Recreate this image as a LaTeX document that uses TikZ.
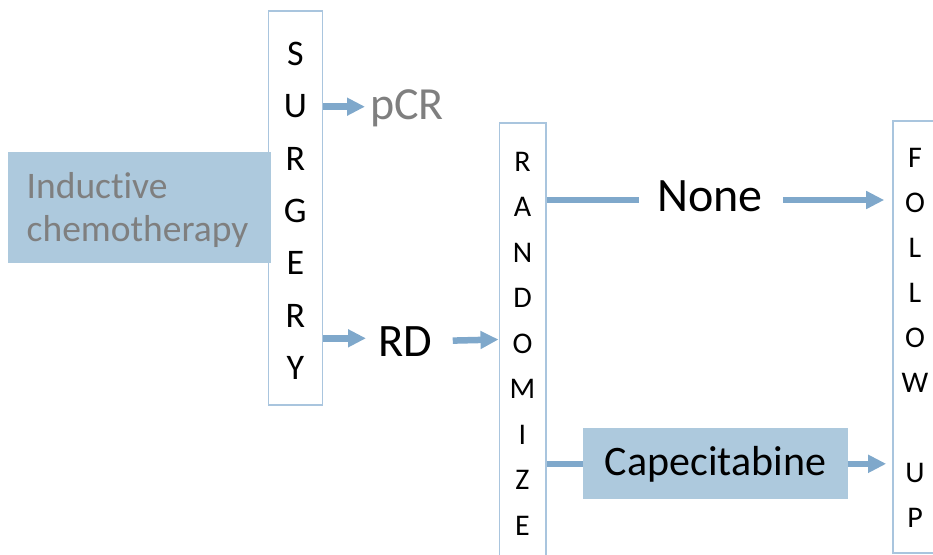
\documentclass[tikz,border=0pt]{standalone}
\usepackage{fontspec}
\setmainfont{Carlito}[Ligatures=NoCommon]
\usetikzlibrary{arrows.meta,calc}
\definecolor{boxline}{HTML}{A9C5DE}
\definecolor{boxfill}{HTML}{ADC9DD}
\definecolor{flowblue}{HTML}{7FA8CB}
\definecolor{softgray}{HTML}{7F7F7F}
\newcommand\setfs[1]{\fontsize{#1}{#1}\selectfont}
\tikzset{
  stagebox/.style={draw=boxline, line width=1.6pt, fill=white, inner sep=0pt},
  shadedbox/.style={fill=boxfill, draw=none, inner sep=0pt},
  flow/.style={draw=flowblue, line width=6.5pt},
  flowarrow/.style={flow, -{Triangle[length=18pt,width=17pt]}},
  txt/.style={inner sep=0pt, anchor=base west},
  letter/.style={inner sep=0pt, font=\setfs{#1}},
}
\begin{document}
\begin{tikzpicture}[x=1pt,y=-1pt]
\useasboundingbox (0,0) rectangle (933,554);

% row heights of the connectors
\coordinate (pcrrow) at (0,106.7);
\coordinate (rdrow) at (0,338.3);
\coordinate (randrow) at (0,339.5);
\coordinate (nonerow) at (0,200);

% SURGERY column
\node[stagebox, minimum width=54pt, minimum height=394pt] (surgery) at (295.3,208) {};
\foreach \ch [count=\i from 0] in {S,U,R,G,E,R,Y}
  \node[letter=36] (surg-\i) at (295.3,{54+52.3*\i}) {\ch};

% induction box, laid over the column edge
\node[shadedbox, minimum width=262.7pt, minimum height=111pt] (chemo) at (139.3,207.2) {};
\node[txt, text=softgray, font=\setfs{37.5}] (chemo-a) at (26.5,198.3) {Inductive};
\node[txt, text=softgray, font=\setfs{37.5}] (chemo-b) at (26.5,241.7) {chemotherapy};

% outcomes after surgery
\node[txt, text=softgray, font=\setfs{46}] (pcr) at (370,119.3) {pCR};
\node[txt, font=\setfs{46.5}] (rd) at (378.5,356) {RD};
\draw[flowarrow, shorten >=5pt] (surgery.east |- pcrrow) -- (pcr.west |- pcrrow);
\draw[flowarrow, shorten >=12.5pt] (surgery.east |- rdrow) -- (rd.west |- rdrow);

% RANDOMIZE column
\node[stagebox, minimum width=46.4pt, minimum height=447pt] (rand) at (522.5,346.5) {};
\foreach \ch [count=\i from 0] in {R,A,N,D,O,M,I,Z,E}
  \node[letter=30] (rand-\i) at (522.5,{161.5+45.5*\i}) {\ch};
\draw[flowarrow, shorten <=20pt] (rd.east) -- (rand.west |- randrow);

% FOLLOW UP column
\node[stagebox, minimum width=46.4pt, minimum height=432pt] (follow) at (916.2,336.7) {};
\foreach \ch [count=\i from 0] in {F,O,L,L,O,W,{},U,P}
  \node[letter=30] (fol-\i) at (915,{157.5+45*\i}) {\ch};

% study arms
\node[txt, font=\setfs{48}] (none) at (657,211.7) {None};
\draw[flow, shorten >=18pt] (rand.east |- nonerow) -- (none.west |- nonerow);
\draw[flowarrow, shorten <=20pt, shorten >=8pt] (none.east |- nonerow) -- (follow.west |- nonerow);

\node[shadedbox, minimum width=264.4pt, minimum height=71pt, font=\setfs{42}] (cape) at (715.5,463.8) {Capecitabine};
\draw[flow] (rand.east |- cape.west) -- (cape.west);
\draw[flowarrow, shorten >=6pt] (cape.east) -- (follow.west |- cape.east);
\end{tikzpicture}
\end{document}
